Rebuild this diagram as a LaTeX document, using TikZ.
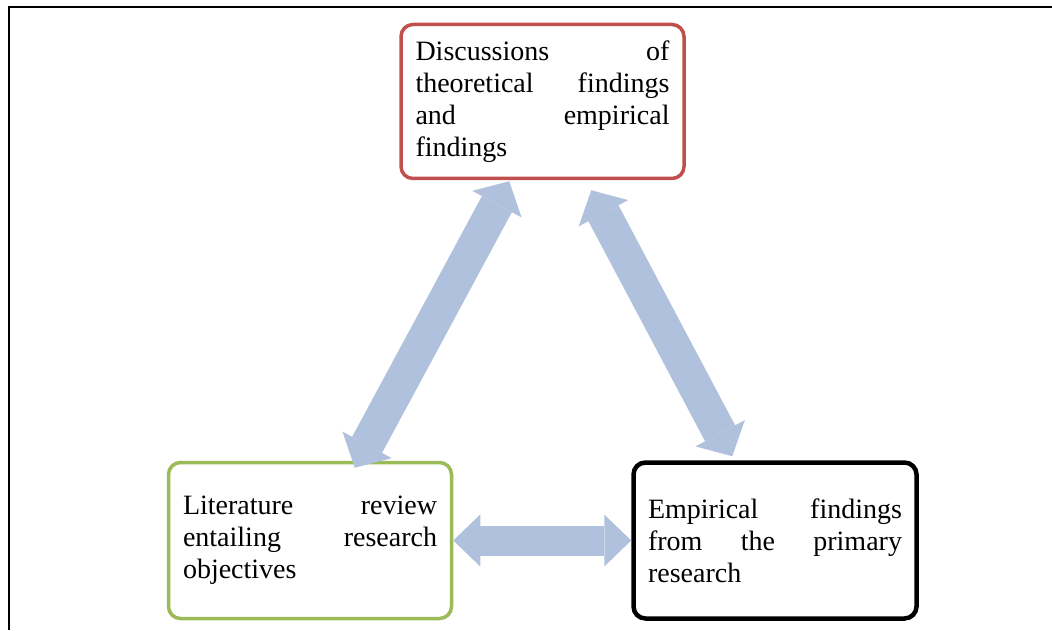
\documentclass[tikz,border=0pt]{standalone}
\usepackage{fontspec}
\setmainfont{Liberation Serif}
\usetikzlibrary{arrows.meta}
\definecolor{BoxRed}{HTML}{C0504D}
\definecolor{BoxGreen}{HTML}{9BBB59}
\definecolor{ArrowBlue}{HTML}{B0C1DD}

\begin{document}
\begin{tikzpicture}[
    x=1pt, y=1pt,
    box/.style={
      rectangle, rounded corners=12pt,
      line width=3.5pt, fill=white,
      minimum width=283pt, text width=254pt,
      align=left, inner sep=0pt,
      font=\fontsize{28}{32}\selectfont
    },
    arr/.style={
      {Triangle[length=27pt, width=52pt, line width=0pt]}-{Triangle[length=27pt, width=52pt, line width=0pt]},
      draw=ArrowBlue, line width=30pt
    },
    diagarr/.style={
      {Triangle[length=26pt, width=56pt, line width=0pt]}-{Triangle[length=26pt, width=56pt, line width=0pt]},
      draw=ArrowBlue, line width=34pt
    }
  ]
  \useasboundingbox (0,0) rectangle (1052,630);
  % outer frame
  \draw[line width=2.5pt] (9,0) -- (9,623) -- (1052,623);

  \node[box, draw=BoxRed, minimum height=154pt] (disc) at (542.5,528.5)
    {Discussions\hfill of\\ theoretical\hfill findings\\ and\hfill empirical\\ findings};
  \node[box, draw=BoxGreen, minimum height=156pt] (lit) at (310,89.5)
    {Literature\hfill review\\ entailing\hfill research\\ objectives};
  \node[box, draw=black, line width=4.5pt, minimum height=156pt] (emp) at (775,89.5)
    {Empirical\hfill findings\\ from\hfill the\hfill primary\\ research};

  \draw[diagarr] ([shift={(110,-1)}]disc.south west) -- ([shift={(188,-7)}]lit.north west);
  \draw[diagarr] ([shift={(192,-10)}]disc.south west) -- ([shift={(101,4)}]emp.north west);
  \draw[arr] (lit.east) -- (emp.west);
\end{tikzpicture}
\end{document}
